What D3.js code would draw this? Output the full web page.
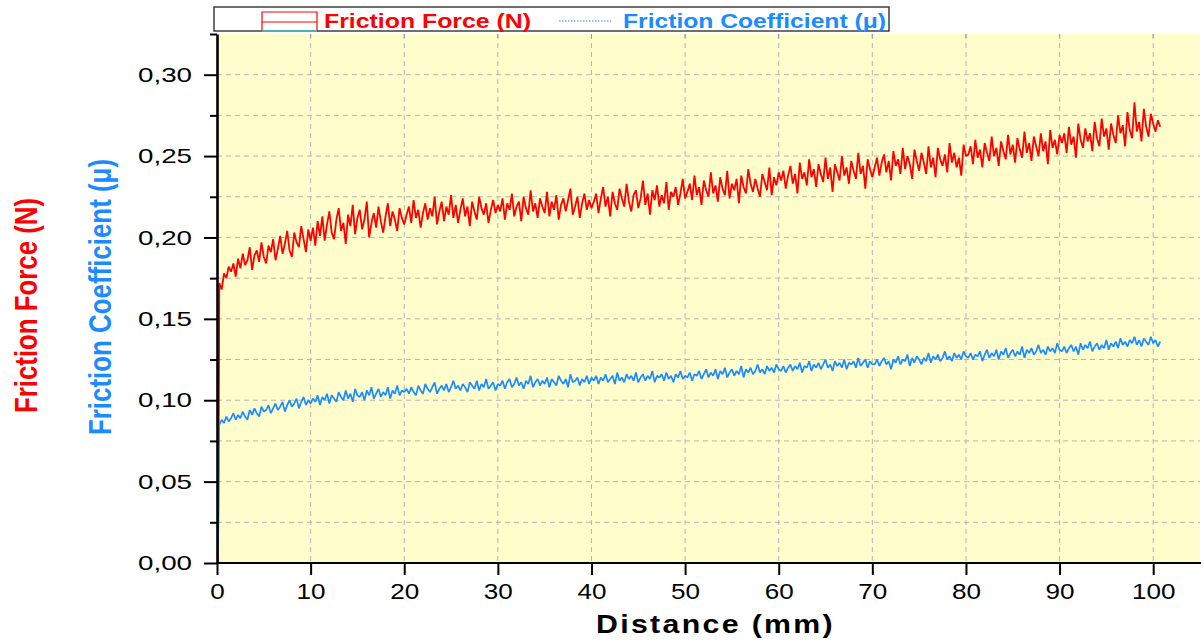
<!DOCTYPE html>
<html>
<head>
<meta charset="utf-8">
<script src="https://cdn.jsdelivr.net/npm/d3@7"></script>
<style>
  body { margin: 0; background: #fff; }
  text { font-family: "Liberation Sans", Arial, sans-serif; }
</style>
</head>
<body>
<svg id="chart" width="1203" height="644"></svg>
<script>
// ---- data ----
const xTicks = [0, 10, 20, 30, 40, 50, 60, 70, 80, 90, 100];
const yTicks = [0, 0.05, 0.10, 0.15, 0.20, 0.25, 0.30];
const yMinorTicks = [0.025, 0.075, 0.125, 0.175, 0.225, 0.275, 0.325];

// first steep rise (mm, value)
const rampDist = [0.10, 0.15, 0.19, 0.22, 0.24];
const rampForce = [0, 0.04, 0.09, 0.13, 0.166];
const rampCoef = [0.005, 0.035, 0.07, 0.082, 0.086];

// then one reading every 0.25 mm from 0.25 mm, in thousandths
const sampleStart = 0.25, sampleStep = 0.25;
const forceMilli = [
  172,168,178,175,182,179,184,176,187,181, 190,183,186,194,180,189,192,185,197,188,
  184,195,191,199,186,193,201,190,196,204, 192,188,203,197,194,207,199,191,205,198,
  206,195,210,201,213,198,208,216,203,199, 211,218,204,209,196,214,207,220,202,212,
  217,205,211,222,200,209,215,206,219,210, 203,213,221,207,216,211,204,218,212,208,
  214,219,209,223,212,217,206,215,221,211, 218,213,225,208,216,222,210,219,214,226,
  212,220,209,217,224,213,219,207,222,216, 211,225,218,214,221,209,217,223,215,220,
  216,224,211,221,217,227,213,219,222,210, 225,218,214,229,216,221,212,224,219,215,
  228,213,222,217,226,211,220,224,216,223, 230,214,219,225,212,221,227,217,223,218,
  222,227,215,224,231,219,225,213,228,221, 217,230,224,219,233,222,216,226,229,218,
  224,235,220,227,214,229,223,232,219,226, 221,234,217,228,225,231,220,227,236,224,
  228,233,223,238,226,231,220,235,229,225, 240,227,232,222,237,230,226,241,224,233,
  229,236,221,238,231,227,242,233,228,236, 230,225,239,234,229,243,226,237,232,240,
  235,241,230,238,244,233,239,227,246,236, 240,232,248,237,242,231,245,239,234,249,
  236,243,228,245,240,235,250,238,243,233, 247,241,236,252,239,244,230,248,242,237,
  243,249,238,246,251,240,247,235,253,244, 248,239,255,242,250,245,236,254,247,241,
  252,246,239,256,243,249,237,255,248,244, 251,240,258,246,252,243,249,238,257,250,
  251,256,245,260,249,254,243,258,252,247, 262,250,255,244,259,253,248,263,251,257,
  246,261,254,249,265,252,258,247,262,256, 250,264,253,259,245,266,255,260,251,263,
  258,264,252,268,257,262,249,270,260,255, 267,259,264,253,271,261,256,273,262,267,
  254,270,263,258,275,264,269,256,277,266, 261,283,265,271,259,279,268,262,276,270,
  265,272,268
];
const coefMilli = [
  85,88,86,90,87,89,92,88,91,89, 93,90,88,94,91,95,92,90,96,93,
  94,97,92,95,98,94,96,99,93,97, 100,96,98,101,95,99,102,97,100,98,
  101,99,103,97,102,100,104,98,103,101, 99,105,102,100,106,101,104,99,107,103,
  102,105,100,106,103,108,101,104,107,102, 105,103,108,101,106,104,109,103,106,105,
  107,104,108,105,103,109,106,104,110,107, 105,108,111,104,107,109,106,110,105,108,
  112,107,109,106,110,108,105,111,109,107, 112,106,110,108,113,107,109,111,106,110,
  109,112,107,111,113,108,110,114,109,111, 107,112,110,115,108,111,113,109,112,110,
  114,108,113,111,109,115,112,110,113,108, 116,111,112,114,109,113,111,115,110,114,
  112,115,110,114,112,116,111,113,115,110, 117,112,114,111,116,113,115,112,117,111,
  114,116,112,115,113,118,111,115,114,116, 112,117,113,115,111,116,114,118,113,115,
  114,117,112,116,115,118,113,116,119,114, 117,115,119,113,118,116,120,114,117,119,
  115,118,116,121,114,119,117,120,116,118, 122,117,119,116,121,118,120,117,122,119,
  118,121,117,120,122,118,121,119,123,117, 121,120,124,118,122,120,123,119,122,125,
  120,122,118,124,121,123,120,125,119,123, 122,124,120,126,121,123,125,120,124,122,
  122,125,121,124,126,122,124,119,125,123, 127,122,125,124,128,121,126,123,127,125,
  122,126,124,129,123,127,125,128,124,126, 130,125,127,124,129,126,128,125,130,127,
  126,129,125,128,127,130,124,128,131,126, 129,127,131,125,130,128,132,126,129,131,
  127,130,128,133,126,131,129,132,128,130, 134,129,131,128,133,130,132,129,135,131,
  130,133,129,132,134,130,133,128,135,131, 134,132,136,130,133,135,131,134,132,137,
  131,135,133,136,132,138,134,136,133,137, 135,139,134,137,133,138,136,134,139,135,
  137,133,136
];

const colorForce = '#ff0000';
const colorCoef = '#1a8cff';

// ---- build series ----
function build_series(rampVals, milliVals) {
    let pts = rampDist.map((d, i) => ({x: d, y: rampVals[i]}));
    milliVals.forEach(function (v, i) {
        pts.push({x: sampleStart + i * sampleStep, y: v / 1000});
    });
    return pts;
}
let forceSeries = build_series(rampForce, forceMilli);
let coefSeries = build_series(rampCoef, coefMilli);

// ---- layout ----
var margin = {top: 34, left: 217, right: 1200, bottom: 563};

let svg = d3.select('#chart');
svg.append('rect').attr('width', 1203).attr('height', 644).attr('fill', '#fff');

let x = d3.scaleLinear().domain([0, 105]).range([margin.left, margin.right]);
let y = d3.scaleLinear().domain([0, 0.325]).range([margin.bottom, margin.top]);

// plot background
svg.append('rect')
    .attr('x', margin.left).attr('y', margin.top)
    .attr('width', margin.right - margin.left).attr('height', margin.bottom - margin.top)
    .attr('fill', '#fffdcc');

svg.append('clipPath').attr('id', 'plotClip').append('rect')
    .attr('x', margin.left).attr('y', margin.top - 2)
    .attr('width', margin.right - margin.left).attr('height', margin.bottom - margin.top + 2);

// grid
let grid = svg.append('g').attr('stroke', '#b5b5b5').attr('stroke-width', 1).attr('stroke-dasharray', '5,4');
grid.selectAll('.vgrid').data(xTicks.filter(d => d > 0)).enter().append('line')
    .attr('x1', d => x(d)).attr('x2', d => x(d))
    .attr('y1', margin.top).attr('y2', margin.bottom);
grid.selectAll('.hgrid').data(yTicks.concat(yMinorTicks).filter(d => d > 0 && d < 0.32)).enter().append('line')
    .attr('x1', margin.left).attr('x2', margin.right)
    .attr('y1', d => y(d)).attr('y2', d => y(d));

// small top ticks
svg.append('g').selectAll('line').data(xTicks.filter(d => d > 0)).enter().append('line')
    .attr('x1', d => x(d)).attr('x2', d => x(d))
    .attr('y1', margin.top).attr('y2', margin.top + 4)
    .attr('stroke', '#999').attr('stroke-width', 1);

// curves
let line = d3.line().x(d => x(d.x)).y(d => y(d.y));
let plot = svg.append('g').attr('clip-path', 'url(#plotClip)');
plot.append('path').datum(forceSeries)
    .attr('d', line).attr('fill', 'none')
    .attr('stroke', colorForce).attr('stroke-width', 1.8).attr('stroke-linejoin', 'bevel');
plot.append('path').datum(coefSeries)
    .attr('d', line).attr('fill', 'none')
    .attr('stroke', colorCoef).attr('stroke-width', 1.7).attr('stroke-linejoin', 'bevel');

// y axis
let yAxis = svg.append('g').attr('transform', 'translate(' + margin.left + ',0)')
    .call(d3.axisLeft(y).tickValues(yTicks).tickSize(13).tickSizeOuter(0).tickPadding(12)
        .tickFormat(d => d3.format('.2f')(d).replace('.', ',')));
yAxis.select('.domain').attr('stroke-width', 2.6).attr('stroke', '#000');
yAxis.selectAll('.tick line').attr('stroke-width', 2).attr('stroke', '#000');
yAxis.selectAll('.tick text')
    .attr('font-size', 21).attr('fill', '#000')
    .attr('font-family', '"Liberation Sans", Arial, sans-serif')
    .attr('textLength', 54).attr('lengthAdjust', 'spacingAndGlyphs');

let yMinor = svg.append('g').attr('transform', 'translate(' + margin.left + ',0)')
    .call(d3.axisLeft(y).tickValues(yMinorTicks).tickSize(7).tickSizeOuter(0).tickFormat(''));
yMinor.select('.domain').remove();
yMinor.selectAll('.tick line').attr('stroke-width', 2).attr('stroke', '#000');

// x axis
let xAxis = svg.append('g').attr('transform', 'translate(0,' + margin.bottom + ')')
    .call(d3.axisBottom(x).tickValues(xTicks).tickSize(12).tickSizeOuter(0).tickPadding(8));
xAxis.select('.domain').attr('stroke-width', 2.2).attr('stroke', '#000')
    .attr('d', 'M' + (margin.left - 1) + ',0H' + (margin.right + 1));
xAxis.selectAll('.tick line').attr('stroke-width', 2).attr('stroke', '#000');
xAxis.selectAll('.tick text')
    .attr('font-size', 22).attr('fill', '#000')
    .attr('font-family', '"Liberation Sans", Arial, sans-serif')
    .attr('textLength', d => String(d).length * 14.5).attr('lengthAdjust', 'spacingAndGlyphs');

// axis titles
svg.append('text')
    .attr('x', 715.5).attr('y', 633)
    .attr('text-anchor', 'middle')
    .attr('font-size', 26).attr('font-weight', 'bold').attr('fill', '#000')
    .attr('letter-spacing', 2)
    .attr('textLength', 239).attr('lengthAdjust', 'spacingAndGlyphs')
    .text('Distance (mm)');

svg.append('text')
    .attr('transform', 'translate(37,305.5) rotate(-90)')
    .attr('text-anchor', 'middle')
    .attr('font-size', 32).attr('font-weight', 'bold').attr('fill', colorForce)
    .attr('textLength', 215).attr('lengthAdjust', 'spacingAndGlyphs')
    .text('Friction Force (N)');

svg.append('text')
    .attr('transform', 'translate(111,297) rotate(-90)')
    .attr('text-anchor', 'middle')
    .attr('font-size', 32).attr('font-weight', 'bold').attr('fill', colorCoef)
    .attr('textLength', 276).attr('lengthAdjust', 'spacingAndGlyphs')
    .text('Friction Coefficient (\u03bc)');

// legend
let legend = svg.append('g');
legend.append('rect')
    .attr('x', 214).attr('y', 7).attr('width', 675).attr('height', 24)
    .attr('fill', '#fff').attr('stroke', '#222').attr('stroke-width', 1.3);
legend.append('path')
    .attr('d', 'M262,31V12H317V31M262,22H317')
    .attr('fill', 'none').attr('stroke', colorForce).attr('stroke-width', 1.2);
legend.append('line')
    .attr('x1', 262).attr('x2', 317).attr('y1', 31).attr('y2', 31)
    .attr('stroke', '#33eeff').attr('stroke-width', 1.2);
legend.append('text')
    .attr('x', 324).attr('y', 27.5)
    .attr('font-size', 20).attr('font-weight', 'bold').attr('fill', colorForce)
    .attr('textLength', 207).attr('lengthAdjust', 'spacingAndGlyphs')
    .text('Friction Force (N)');
legend.append('line')
    .attr('x1', 559).attr('x2', 611).attr('y1', 21).attr('y2', 21)
    .attr('stroke', colorCoef).attr('stroke-width', 1).attr('stroke-dasharray', '1.5,1.5');
legend.append('text')
    .attr('x', 623).attr('y', 27.5)
    .attr('font-size', 20).attr('font-weight', 'bold').attr('fill', colorCoef)
    .attr('textLength', 263).attr('lengthAdjust', 'spacingAndGlyphs')
    .text('Friction Coefficient (\u03bc)');
</script>
</body>
</html>
